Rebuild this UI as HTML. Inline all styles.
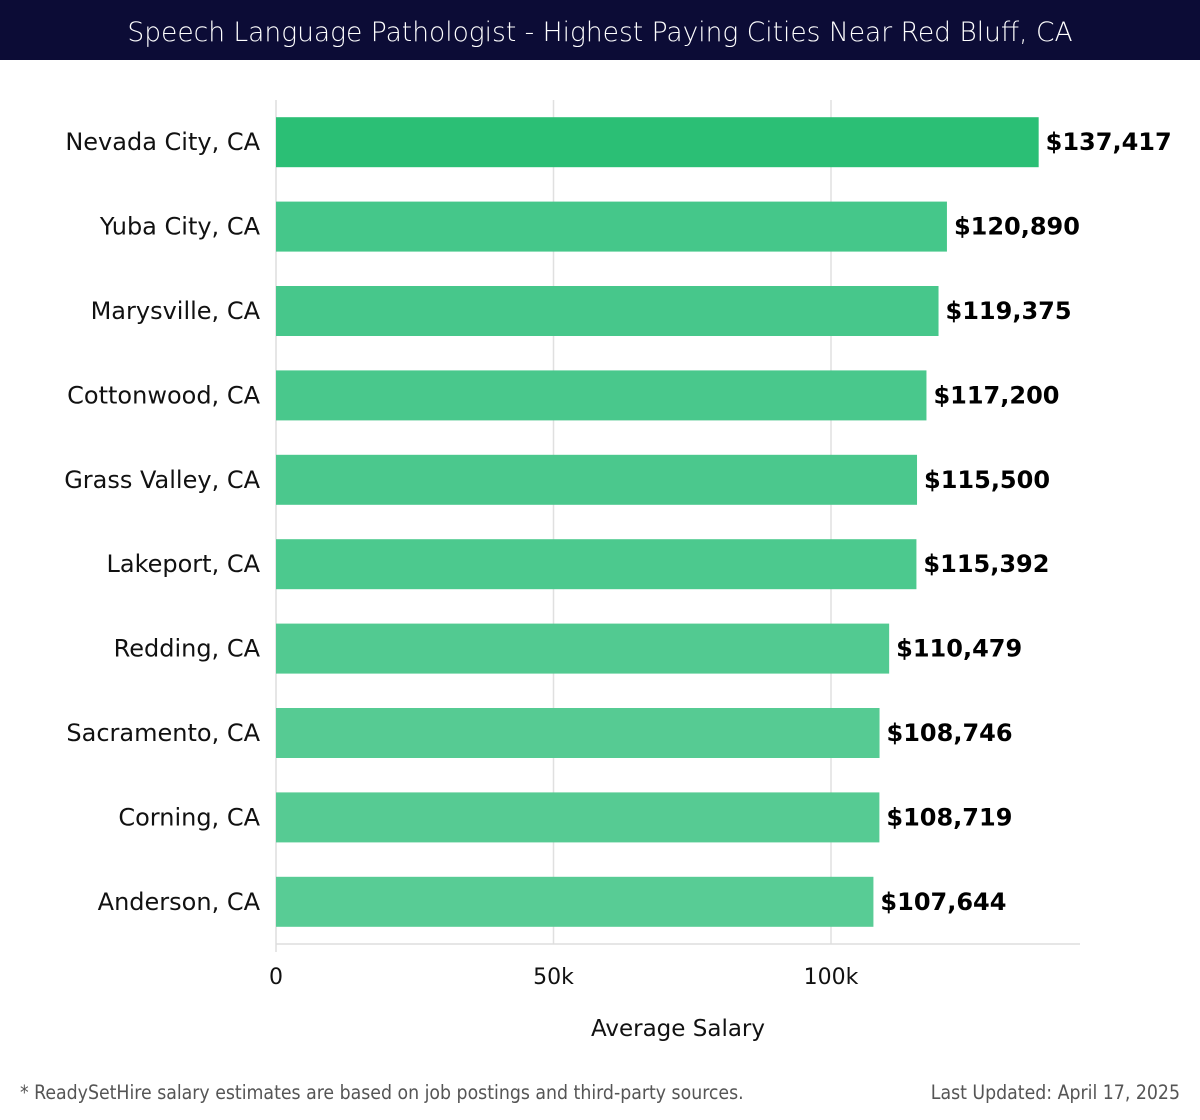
<!DOCTYPE html>
<html><head><meta charset="utf-8"><style>
body{margin:0;width:1200px;height:1120px;background:#fff;font-family:"DejaVu Sans","Liberation Sans",sans-serif;overflow:hidden}
#title{position:absolute;left:0;top:0;width:1200px;height:60px;background:#0c0c36;color:#fff;font-size:26.5px;line-height:66px;text-align:center;font-family:"DejaVu Sans",sans-serif;font-weight:300}
</style></head><body>
<div id="title">Speech Language Pathologist - Highest Paying Cities Near Red Bluff, CA</div>
<svg id="chart" width="1200" height="1120" style="position:absolute;left:0;top:0"></svg>
<script>
const categories=["Nevada City, CA","Yuba City, CA","Marysville, CA","Cottonwood, CA","Grass Valley, CA","Lakeport, CA","Redding, CA","Sacramento, CA","Corning, CA","Anderson, CA"];
const salaries=[137417,120890,119375,117200,115500,115392,110479,108746,108719,107644];
const valueLabels=["$137,417","$120,890","$119,375","$117,200","$115,500","$115,392","$110,479","$108,746","$108,719","$107,644"];
const ticks=[0,50000,100000];
const tickLabels=["0","50k","100k"];
const colors=["#2bbf75","#45c78a","#47c78b","#49c88c","#4bc88d","#4cc98e","#52ca91","#56cb93","#56cb93","#58cc95"];
const svg=document.getElementById('chart');const NS='http://www.w3.org/2000/svg';
const x0=276,pxPer=(831-276)/100000,top0=100,band=84.4,barH=50;
const xs=v=>x0+v*pxPer;
const yb=i=>top0+i*band+(band-barH)/2;
function mk(t,a,txt){const e=document.createElementNS(NS,t);for(const k in a)e.setAttribute(k,a[k]);if(txt!=null)e.textContent=txt;svg.appendChild(e);return e;}
ticks.forEach((t,i)=>{
 if(t>0){const g=mk('line',{x1:xs(t),x2:xs(t),y1:100,y2:944,stroke:'#e0e0e0','stroke-width':1.5});
 
 }
 const l=mk('text',{x:xs(t),y:984,'text-anchor':'middle','font-size':22,fill:'#111'},tickLabels[i]);
 
 
});
const ax=mk('line',{x1:x0,x2:x0,y1:100,y2:952,stroke:'#ddd','stroke-width':1.5});


const bx=mk('line',{x1:x0,x2:1080,y1:944,y2:944,stroke:'#ddd','stroke-width':1.5});


categories.forEach((c,i)=>{
 const y=yb(i);
 const r=mk('rect',{x:x0,y:y,width:xs(salaries[i])-x0,height:barH,fill:colors[i]});
 
 
 const l=mk('text',{x:260,y:y+barH/2+8,'text-anchor':'end','font-size':24,fill:'#111'},c);
 
 
 const v=mk('text',{x:xs(salaries[i])+7,y:y+barH/2+8,'font-size':24,'font-weight':'bold',fill:'#000'},valueLabels[i]);
 
 
});
const xt=mk('text',{x:678,y:1036,'text-anchor':'middle','font-size':23,fill:'#111'},'Average Salary');


const f1=mk('text',{x:20,y:1099,'font-size':19.3,fill:'#555','font-family':'DejaVu Sans Condensed, DejaVu Sans, sans-serif'},'* ReadySetHire salary estimates are based on job postings and third-party sources.');


const f2=mk('text',{x:1180,y:1099,'text-anchor':'end','font-size':19.3,fill:'#555','font-family':'DejaVu Sans Condensed, DejaVu Sans, sans-serif'},'Last Updated: April 17, 2025');


</script>
</body></html>
